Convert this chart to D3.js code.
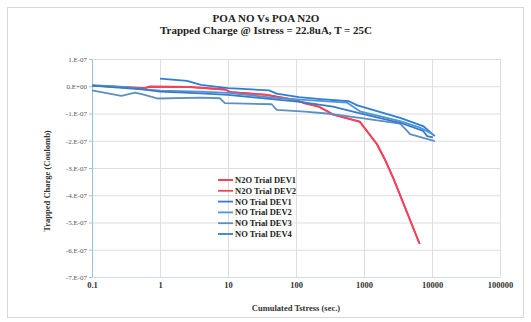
<!DOCTYPE html>
<html><head><meta charset="utf-8">
<script src="https://cdn.jsdelivr.net/npm/d3@7"></script>
<style>body{margin:0;background:#fff}svg{display:block}text{font-family:"Liberation Serif","Times New Roman",serif}</style>
</head><body><svg id="c" width="531" height="322"></svg>
<script>
// ---- data (values in units of 1e-7 Coulomb) ----
const seriesNames = ["N2O Trial DEV1","N2O Trial DEV2","NO Trial DEV1","NO Trial DEV2","NO Trial DEV3","NO Trial DEV4"];
const seriesColors = ["#f5304a","#f4435a","#2d7fd6","#4d95dc","#5e8fc2","#3a7cc4"];

const n2o1X = [0.1,0.6,0.7,2.7,9,11,36,97,135,220,350,870,1550,2000,2700,6600];
const n2o1Y = [0.02,-0.07,-0.01,-0.02,-0.12,-0.22,-0.31,-0.5,-0.63,-0.75,-1.04,-1.3,-2.13,-2.65,-3.38,-5.79];
const n2o2X = [0.1,0.6,0.7,2.7,9,11,36,97,135,220,350,870,1550,2000,2700,6500];
const n2o2Y = [0.02,-0.07,-0.02,-0.03,-0.12,-0.22,-0.32,-0.5,-0.62,-0.76,-1.03,-1.31,-2.12,-2.66,-3.37,-5.76];
const no1X = [1,2.5,4,10,40,52,110,230,600,800,3400,7400,11000];
const no1Y = [0.28,0.2,0.05,-0.07,-0.15,-0.27,-0.4,-0.47,-0.55,-0.7,-1.16,-1.46,-1.83];
const no2X = [0.1,0.3,0.62,1,4,10,44,115,560,870,3400,6650,10300];
const no2Y = [0.04,-0.02,-0.12,-0.16,-0.2,-0.24,-0.42,-0.49,-0.6,-0.92,-1.28,-1.52,-1.76];
const no3X = [0.1,0.27,0.43,0.56,0.93,4,7.6,9,44,52,135,285,870,3400,4300,4740,11000];
const no3Y = [-0.15,-0.35,-0.23,-0.3,-0.45,-0.42,-0.44,-0.62,-0.66,-0.87,-0.93,-1.0,-1.16,-1.37,-1.64,-1.76,-2.01];
const no4X = [0.1,0.6,1,4,10,44,115,350,790,3400,7400,8500,10300];
const no4Y = [0.02,-0.12,-0.2,-0.26,-0.32,-0.47,-0.57,-0.75,-0.97,-1.34,-1.64,-1.83,-1.88];

const xTicks = [0.1,1,10,100,1000,10000,100000];
const xTickLabels = ["0.1","1","10","100","1000","10000","100000"];
const yTicks = [1,0,-1,-2,-3,-4,-5,-6,-7];
const yTickLabels = ["1.E-07","0.E+00","-1.E-07","-2.E-07","-3.E-07","-4.E-07","-5.E-07","-6.E-07","-7.E-07"];

const allX = [n2o1X,n2o2X,no1X,no2X,no3X,no4X];
const allY = [n2o1Y,n2o2Y,no1Y,no2Y,no3Y,no4Y];

// ---- drawing ----
const svg = d3.select("#c");
const L = 92, R = 500, T = 59, B = 277;
const x = d3.scaleLog().domain([0.1,100000]).range([L,R]);
const y = d3.scaleLinear().domain([-7,1]).range([B,T]);

svg.append("rect").attr("x",7.5).attr("y",7.5).attr("width",516).attr("height",310)
  .attr("fill","#fff").attr("stroke","#d8d8d8");

// gridlines
svg.append("g").selectAll("line").data(yTicks).join("line")
  .attr("x1",L).attr("x2",R).attr("y1",d=>y(d)+0.5).attr("y2",d=>y(d)+0.5)
  .attr("stroke","#dedede").attr("stroke-width",1);
svg.append("g").selectAll("line").data(xTicks).join("line")
  .attr("x1",d=>Math.round(x(d))+0.5).attr("x2",d=>Math.round(x(d))+0.5).attr("y1",T).attr("y2",B)
  .attr("stroke","#dedede").attr("stroke-width",1);

// axes
const yAxis = d3.axisLeft(y).tickValues(yTicks).tickSize(3).tickFormat((d,i)=>yTickLabels[i]);
const gy = svg.append("g").attr("transform",`translate(${L},0)`).call(yAxis);
gy.select(".domain").attr("stroke","#9cc3d6");
gy.selectAll(".tick line").attr("stroke","#9cc3d6");
gy.selectAll("text").attr("font-size",7).attr("fill","#555").attr("x",-5);

const xAxis = d3.axisBottom(x).tickValues(xTicks).tickSize(0).tickFormat((d,i)=>xTickLabels[i]);
const gx = svg.append("g").attr("transform",`translate(0,${B})`).call(xAxis);
gx.select(".domain").attr("stroke","#cfe0ea");
gx.selectAll("text").attr("font-size",8.5).attr("font-weight","bold").attr("fill","#333")
  .attr("y",5).attr("dy","0.71em");

// lines
const line = d3.line().x(d=>x(d[0])).y(d=>y(d[1]));
allX.forEach((xs,i)=>{
  const pts = xs.map((v,k)=>[v,allY[i][k]]);
  svg.append("path").datum(pts).attr("d",line).attr("fill","none")
    .attr("stroke",seriesColors[i]).attr("stroke-width",1.8).attr("stroke-linejoin","round");
});

// titles
svg.append("text").attr("x",266).attr("y",22).attr("text-anchor","middle")
  .attr("font-size",11).attr("font-weight","bold").attr("fill","#222").text("POA NO Vs POA N2O");
svg.append("text").attr("x",266).attr("y",34).attr("text-anchor","middle")
  .attr("font-size",11).attr("font-weight","bold").attr("fill","#222").text("Trapped Charge @ Istress = 22.8uA, T = 25C");
svg.append("text").attr("transform","translate(50,181) rotate(-90)").attr("text-anchor","middle")
  .attr("font-size",8.5).attr("font-weight","bold").attr("fill","#333").text("Trapped Charge (Coulomb)");
svg.append("text").attr("x",296).attr("y",311).attr("text-anchor","middle")
  .attr("font-size",8.5).attr("font-weight","bold").attr("fill","#333").text("Cumulated Tstress (sec.)");

// legend
const lg = svg.append("g");
seriesNames.forEach((n,i)=>{
  const yy = 180 + i*10.8;
  lg.append("line").attr("x1",218).attr("x2",233).attr("y1",yy).attr("y2",yy)
    .attr("stroke",seriesColors[i]).attr("stroke-width",1.8);
  lg.append("text").attr("x",235).attr("y",yy+3).attr("font-size",8.5).attr("font-weight","bold")
    .attr("fill","#222").text(n);
});
</script></body></html>
